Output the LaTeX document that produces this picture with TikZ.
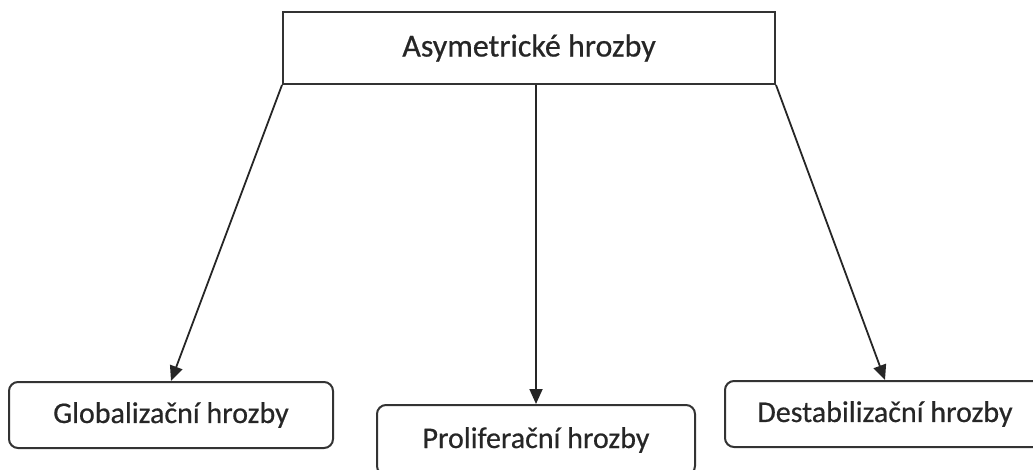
\documentclass[tikz,border=0pt]{standalone}
\usepackage{fontspec}
\setmainfont{Carlito}
\newfontfamily\labelfont{Carlito}[FakeBold=0.5]
\usetikzlibrary{arrows.meta}
\begin{document}
\begin{tikzpicture}[x=1pt,y=-1pt,
  box/.style={draw=black!80, line width=2pt, fill=white, inner sep=0pt,
    font=\labelfont\fontsize{32pt}{38pt}\selectfont, text=black!85},
  sub/.style={box, rounded corners=9pt, font=\labelfont\fontsize{30pt}{36pt}\selectfont},
  link/.style={draw=black!85, line width=1.8pt, -{Triangle[length=15pt,width=13pt]}}]
  \useasboundingbox (0,0) rectangle (1033,470);
  \clip (0,0) rectangle (1033,470);
  % root category
  \node[box, minimum width=492pt, minimum height=72pt] (root) at (529,48) {\raisebox{3pt}{Asymetrické hrozby}};
  % three kinds of threats
  \node[sub, minimum width=324pt, minimum height=66pt] (glob) at (171,415) {\raisebox{2pt}{Globalizační hrozby}};
  \node[sub, minimum width=318pt, minimum height=70pt] (prol) at (536,440) {\raisebox{4pt}{Proliferační hrozby}};
  \node[sub, minimum width=320pt, minimum height=66pt] (dest) at (885,414) {\raisebox{2pt}{Destabilizační hrozby}};
  % connectors
  \draw[link] (root.south west) -- (glob.north);
  \draw[link] (root.south -| prol.north) -- (prol.north);
  \draw[link] (root.south east) -- (dest.north);
\end{tikzpicture}
\end{document}
